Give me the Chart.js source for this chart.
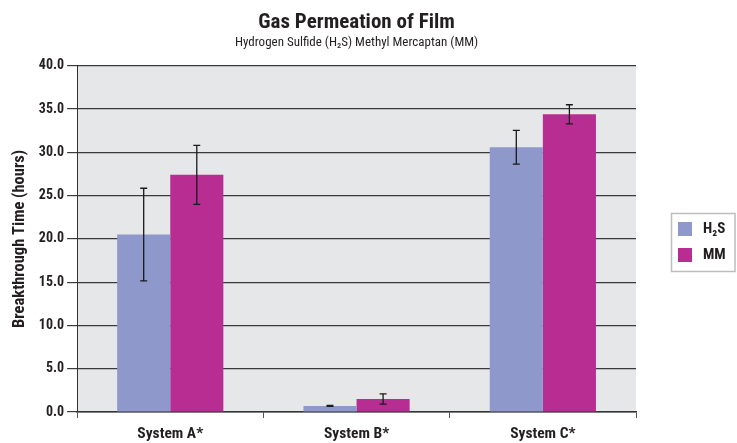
<!DOCTYPE html>
<html>
<head>
    <title>Gas Permeation of Film</title>
    <script src="https://cdn.jsdelivr.net/npm/chart.js"></script>
    <style>
        body { margin: 0; background: #fff; }
        #wrap { width: 737px; height: 443px; }
    </style>
</head>
<body>
    <div id="wrap"><canvas id="myChart" width="737" height="443"></canvas></div>
    <script>
        const categories = ['System A*', 'System B*', 'System C*'];
        const h2sValues = [20.5, 0.7, 30.6];
        const h2sErrors = [5.35, 0.05, 1.95];
        const mmValues = [27.4, 1.5, 34.4];
        const mmErrors = [3.4, 0.6, 1.1];
        const yTicks = [0, 5, 10, 15, 20, 25, 30, 35, 40];

        const FONT = '"Liberation Sans Narrow", "Roboto Condensed", "Liberation Sans", sans-serif';
        const INK = '#231f20';

        // grey plot background
        const plotBg = {
            id: 'plotBg',
            beforeDraw(chart) {
                const a = chart.chartArea, c = chart.ctx;
                c.save();
                c.fillStyle = '#e6e7e8';
                c.fillRect(a.left, a.top, a.right - a.left, a.bottom - a.top);
                c.restore();
            }
        };

        // error bars from the errors arrays
        const errorBars = {
            id: 'errorBars',
            afterDatasetsDraw(chart) {
                const c = chart.ctx, y = chart.scales.y;
                chart.data.datasets.forEach((ds, i) => {
                    chart.getDatasetMeta(i).data.forEach((bar, j) => {
                        const v = ds.data[j], e = ds.errors[j];
                        const top = y.getPixelForValue(v + e);
                        const bot = y.getPixelForValue(v - e);
                        c.save();
                        c.strokeStyle = '#1a1a1a';
                        c.lineWidth = 1.3;
                        c.beginPath();
                        c.moveTo(bar.x, top); c.lineTo(bar.x, bot);
                        c.moveTo(bar.x - 3.5, top); c.lineTo(bar.x + 3.5, top);
                        c.moveTo(bar.x - 3.5, bot); c.lineTo(bar.x + 3.5, bot);
                        c.stroke();
                        c.restore();
                    });
                });
            }
        };

        // framed legend in the right margin
        const boxLegend = {
            id: 'boxLegend',
            afterDraw(chart) {
                const c = chart.ctx, a = chart.chartArea;
                const left = a.right + 35, top = 213, w = 65, h = 58;
                c.save();
                c.strokeStyle = '#bdbdbd';
                c.lineWidth = 1.5;
                c.strokeRect(left + 0.5, top + 0.5, w - 1.5, h);
                c.font = 'bold 15px ' + FONT;
                c.textBaseline = 'middle';
                chart.data.datasets.forEach((ds, i) => {
                    const yy = top + 9 + i * 26;
                    c.fillStyle = ds.backgroundColor;
                    c.fillRect(left + 7, yy, 14, 14);
                    c.fillStyle = INK;
                    c.fillText(ds.label, left + 32, yy + 7.5);
                });
                c.restore();
            }
        };

        const ctx = document.getElementById('myChart').getContext('2d');
        const myChart = new Chart(ctx, {
            type: 'bar',
            data: {
                labels: categories,
                datasets: [{
                    label: 'H\u2082S',
                    data: h2sValues,
                    errors: h2sErrors,
                    backgroundColor: '#8e98cb',
                    categoryPercentage: 0.57,
                    barPercentage: 1
                }, {
                    label: 'MM',
                    data: mmValues,
                    errors: mmErrors,
                    backgroundColor: '#b82d91',
                    categoryPercentage: 0.57,
                    barPercentage: 1
                }]
            },
            plugins: [plotBg, errorBars, boxLegend],
            options: {
                responsive: false,
                animation: false,
                layout: { padding: { left: 10, right: 101, top: 6, bottom: 0 } },
                plugins: {
                    title: {
                        display: true,
                        fullSize: false,
                        text: 'Gas Permeation of Film',
                        color: INK,
                        font: { family: FONT, size: 21, weight: 'bold' },
                        padding: { top: 4, bottom: 0 }
                    },
                    subtitle: {
                        display: true,
                        fullSize: false,
                        text: 'Hydrogen Sulfide (H\u2082S) Methyl Mercaptan (MM)',
                        color: INK,
                        font: { family: FONT, size: 13 },
                        padding: { top: 0, bottom: 15 }
                    },
                    legend: { display: false },
                    tooltip: { enabled: false }
                },
                scales: {
                    x: {
                        afterFit(scale) { scale.height = 31; },
                        grid: {
                            offset: true,
                            drawOnChartArea: false,
                            color: '#555',
                            tickLength: 6
                        },
                        border: { color: '#333', width: 1.5 },
                        ticks: {
                            color: INK,
                            padding: 7,
                            font: { family: FONT, size: 15.5, weight: 'bold' }
                        }
                    },
                    y: {
                        min: 0,
                        max: 40,
                        afterBuildTicks(axis) {
                            axis.ticks = yTicks.map(v => ({ value: v }));
                        },
                        grid: {
                            color: '#3a3a3a',
                            lineWidth: 1.2,
                            tickLength: 10
                        },
                        border: { color: '#333', width: 1 },
                        ticks: {
                            color: INK,
                            padding: 3,
                            font: { family: FONT, size: 14, weight: 'bold' },
                            callback: v => v.toFixed(1)
                        },
                        title: {
                            display: true,
                            text: 'Breakthrough Time (hours)',
                            color: INK,
                            padding: { top: 0, bottom: 6 },
                            font: { family: FONT, size: 16.5, weight: 'bold' }
                        }
                    }
                }
            }
        });
    </script>
</body>
</html>
